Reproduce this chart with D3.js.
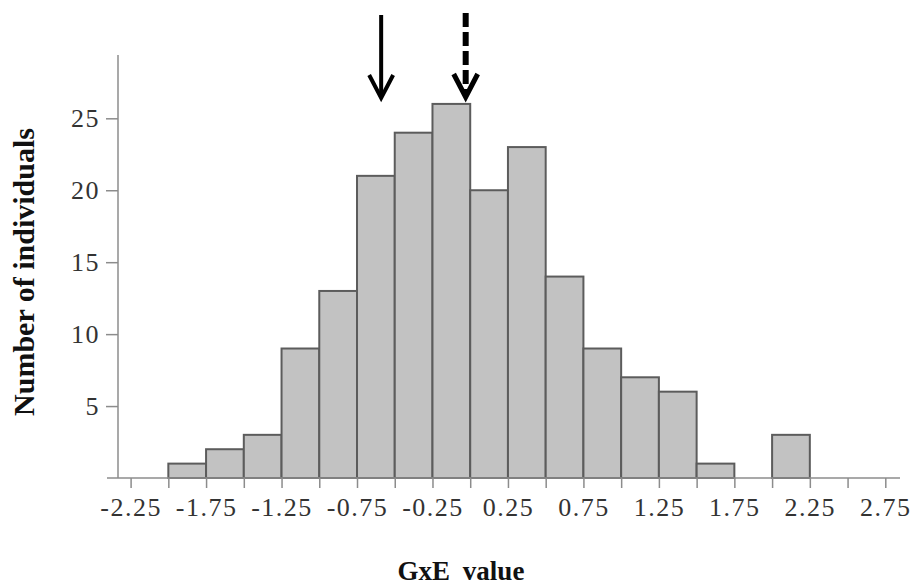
<!DOCTYPE html>
<html>
<head>
<meta charset="utf-8">
<script src="https://cdn.jsdelivr.net/npm/d3@7"></script>
<style>
  body { margin: 0; background: #fff; }
  svg { display: block; }
</style>
</head>
<body>
<div id="chart"></div>
<script>
const WIDTH = 914;
const HEIGHT = 586;

// bins (start of each 0.25 wide bin) and counts
const binStarts = [-2.0, -1.75, -1.5, -1.25, -1.0, -0.75, -0.5, -0.25, 0.0, 0.25, 0.5, 0.75, 1.0, 1.25, 1.5, 1.75, 2.0];
const counts = [1, 2, 3, 9, 13, 21, 24, 26, 20, 23, 14, 9, 7, 6, 1, 0, 3];
const binWidth = 0.25;

const xTicks = [-2.25, -2.0, -1.75, -1.5, -1.25, -1.0, -0.75, -0.5, -0.25, 0.0, 0.25, 0.5, 0.75, 1.0, 1.25, 1.5, 1.75, 2.0, 2.25, 2.5, 2.75];
const xLabels = ["-2.25", "-1.75", "-1.25", "-0.75", "-0.25", "0.25", "0.75", "1.25", "1.75", "2.25", "2.75"];
const yTicks = [5, 10, 15, 20, 25];

// arrows marking two GxE values (solid and dashed)
const arrowSolid = -0.59;
const arrowDashed = -0.03;

const svg = d3.select("#chart")
    .append("svg")
    .attr("width", WIDTH)
    .attr("height", HEIGHT);

const x = d3.scaleLinear().domain([-2.25, 2.75]).range([130.6, 885.3]);
const y = d3.scaleLinear().domain([0, 29.4]).range([478, 55]);

const axisColor = "#8c8c8c";
const labelFont = "'Liberation Serif', 'Times New Roman', serif";

// bars
const bins = binStarts.map(function(b, i) {
    return { x0: b, x1: b + binWidth, n: counts[i] };
}).filter(function(d) { return d.n > 0; });

svg.append("g").selectAll("rect")
    .data(bins)
    .enter().append("rect")
    .attr("x", function(d) { return x(d.x0); })
    .attr("y", function(d) { return y(d.n); })
    .attr("width", function(d) { return x(d.x1) - x(d.x0); })
    .attr("height", function(d) { return y(0) - y(d.n); })
    .attr("fill", "#c2c2c2")
    .attr("stroke", "#5c5c5c")
    .attr("stroke-width", 2);

// x axis
const xAxis = svg.append("g")
    .attr("transform", `translate(0,${y(0)})`)
    .call(d3.axisBottom(x)
        .tickValues(xTicks)
        .tickSize(10)
        .tickPadding(10)
        .tickFormat(function(d) {
            const s = d.toFixed(2);
            return xLabels.indexOf(s) >= 0 ? s : "";
        }));
xAxis.select(".domain").remove();
xAxis.selectAll(".tick line").attr("stroke", axisColor).attr("stroke-width", 1.5);
xAxis.selectAll(".tick text")
    .attr("fill", "#333")
    .style("font-family", labelFont)
    .style("font-size", "26px")
    .style("letter-spacing", "1.5px");

svg.append("line")
    .attr("x1", 107).attr("x2", 900)
    .attr("y1", y(0)).attr("y2", y(0))
    .attr("stroke", axisColor).attr("stroke-width", 1.5);

// y axis
const yAxis = svg.append("g")
    .attr("transform", "translate(118,0)")
    .call(d3.axisLeft(y)
        .tickValues(yTicks)
        .tickSize(12)
        .tickPadding(6));
yAxis.select(".domain").remove();
yAxis.selectAll(".tick line").attr("stroke", axisColor).attr("stroke-width", 1.5);
yAxis.selectAll(".tick text")
    .attr("fill", "#333")
    .style("font-family", labelFont)
    .style("font-size", "26px")
    .style("letter-spacing", "1.5px");

svg.append("line")
    .attr("x1", 118).attr("x2", 118)
    .attr("y1", y.range()[1]).attr("y2", y(0))
    .attr("stroke", axisColor).attr("stroke-width", 1.5);

// titles
svg.append("text")
    .attr("x", 461)
    .attr("y", 580)
    .attr("text-anchor", "middle")
    .attr("fill", "#111")
    .style("font-family", labelFont)
    .style("font-weight", "bold")
    .style("font-size", "27px")
    .style("word-spacing", "6px")
    .text("GxE value");

svg.append("text")
    .attr("transform", "translate(34,272) rotate(-90)")
    .attr("text-anchor", "middle")
    .attr("fill", "#111")
    .style("font-family", labelFont)
    .style("font-weight", "bold")
    .style("font-size", "30px")
    .text("Number of individuals");

// arrows
function arrow(value, top, tip, dashed) {
    const ax = x(value);
    const g = svg.append("g")
        .attr("stroke", "#000")
        .attr("fill", "none");
    g.append("line")
        .attr("x1", ax).attr("x2", ax)
        .attr("y1", top).attr("y2", tip - 4)
        .attr("stroke-width", dashed ? 6 : 4)
        .attr("stroke-dasharray", dashed ? "14,5" : null);
    g.append("polyline")
        .attr("points", [[ax - 12, tip - 23], [ax, tip], [ax + 12, tip - 23]].join(" "))
        .attr("stroke-width", dashed ? 5 : 4)
        .attr("stroke-linejoin", "miter");
}

arrow(arrowSolid, 15, 98, false);
arrow(arrowDashed, 13, 97, true);
</script>
</body>
</html>
